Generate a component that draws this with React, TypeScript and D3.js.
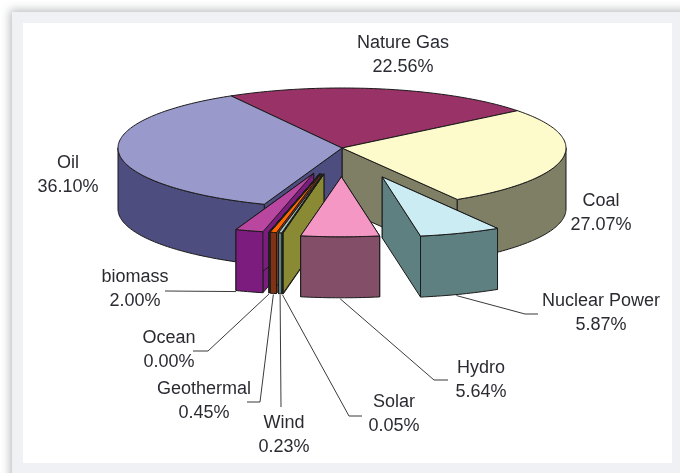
import React from "react";
import * as d3 from "d3";

const categories = ["Nature Gas", "Coal", "Nuclear Power", "Hydro", "Solar", "Wind", "Geothermal", "Ocean", "biomass", "Oil"];
const shares = [22.56, 27.07, 5.87, 5.64, 0.05, 0.23, 0.45, 0.0, 2.0, 36.1];
const explodeBy = [0, 0, 0.515, 0.48, 0.44, 0.44, 0.44, 0.44, 0.44, 0];
const topColors = ["#993366", "#FDFACB", "#CCECF4", "#F497C4", "#808000", "#A9C4C4", "#FF6600", "#1E6E62", "#B9479F", "#9999CC"];
const sideColors = ["#6E2549", "#7F7F66", "#5F8080", "#834F67", "#8A8A35", "#5F8080", "#7F3318", "#0F4038", "#7C1F7E", "#4D4D80"];

const W = 680, H = 473;
const cx = 342, cy = 148, rx = 224, ry = 60, depth = 61;
const startDeg = -29.7;

// label layout: centre of the two text lines, then the leader's elbow and end
const labelPos: Record<string, { x: number; y: number; bend?: [number, number]; end?: [number, number]; at?: number }> = {
  "Nature Gas": { x: 403, y: 42 },
  Coal: { x: 601, y: 200 },
  "Nuclear Power": { x: 601, y: 300, bend: [525, 314], end: [538, 314], at: 0.55 },
  Hydro: { x: 481, y: 367, bend: [434, 380], end: [448, 380], at: 0.5 },
  Solar: { x: 394, y: 401, bend: [349, 416], end: [362, 416], at: 1 },
  Wind: { x: 284, y: 422, bend: [281, 407], end: [281, 407], at: 0.5 },
  Geothermal: { x: 204, y: 388, bend: [260, 402], end: [247, 402], at: 0.5 },
  Ocean: { x: 169, y: 337, bend: [208, 351], end: [193, 351], at: 0.5 },
  biomass: { x: 135, y: 276, bend: [165, 291], end: [165, 291], at: 1 },
  Oil: { x: 68, y: 162 },
};

const rows = categories.map((name, i) => ({ name, value: shares[i], explode: explodeBy[i], top: topColors[i], side: sideColors[i] }));
const pie = d3.pie<(typeof rows)[number]>().value((d) => d.value).sort(null)
  .startAngle((startDeg * Math.PI) / 180)
  .endAngle((startDeg * Math.PI) / 180 + 2 * Math.PI);
const arcs = pie(rows);

const path = d3.line<[number, number]>();
const sx = d3.scaleLinear().domain([-1, 1]).range([cx - rx, cx + rx]);
const sy = d3.scaleLinear().domain([-1, 1]).range([cy - ry, cy + ry]);
const pt = (a: number, ox = 0, oy = 0, r = 1): [number, number] => [sx(r * Math.sin(a)) + ox, sy(-r * Math.cos(a)) + oy];
const rim = (a0: number, a1: number, ox: number, oy: number, dz = 0): [number, number][] => {
  const n = Math.max(2, Math.ceil(Math.abs(a1 - a0) / 0.02));
  return d3.range(n + 1).map((i) => {
    const p = pt(a0 + ((a1 - a0) * i) / n, ox, oy);
    return [p[0], p[1] + dz] as [number, number];
  });
};

type A = (typeof arcs)[number];
function offset(d: A): [number, number] {
  if (!d.data.explode) return [0, 0];
  const m = (d.startAngle + d.endAngle) / 2;
  const p = pt(m, 0, 0, d.data.explode);
  return [p[0] - cx, p[1] - cy];
}

const stroke = { stroke: "#1a1a1a", strokeWidth: 1, strokeLinejoin: "round" as const };

function Slice({ d }: { d: A }) {
  const [ox, oy] = offset(d);
  const c: [number, number] = [cx + ox, cy + oy];
  const wall = (a: number) => {
    const p = pt(a, ox, oy);
    const pts: [number, number][] = [c, p, [p[0], p[1] + depth], [c[0], c[1] + depth]];
    return path(pts) + "Z";
  };
  // the part of the rim that faces the viewer
  const lo = Math.max(d.startAngle, Math.PI / 2);
  const hi = Math.min(d.endAngle, (3 * Math.PI) / 2);
  let front = null;
  if (hi > lo) {
    const upper = rim(lo, hi, ox, oy);
    const lower = rim(hi, lo, ox, oy, depth);
    front = path([...upper, ...lower]) + "Z";
  }
  const top = path([c, ...rim(d.startAngle, d.endAngle, ox, oy)]) + "Z";
  return (
    <g>
      {(d.startAngle > Math.PI / 2 || d.data.explode > 0) && <path d={wall(d.startAngle)} fill={d.data.side} {...stroke} />}
      {(d.endAngle < (3 * Math.PI) / 2 || d.data.explode > 0) && <path d={wall(d.endAngle)} fill={d.data.side} {...stroke} />}
      {front && <path d={front} fill={d.data.side} {...stroke} />}
      <path d={top} fill={d.data.top} {...stroke} />
    </g>
  );
}

const mainSlices = arcs.filter((d) => !d.data.explode);
// furthest left first: each exploded wedge hides the right-hand wall of the one before it
const explodedSlices = ["biomass", "Ocean", "Geothermal", "Wind", "Solar", "Hydro", "Nuclear Power"].map(
  (n) => arcs.find((d) => d.data.name === n)!
);

function Leader({ d }: { d: A }) {
  const l = labelPos[d.data.name];
  if (!l.bend || !l.end) return null;
  const [ox, oy] = offset(d);
  const a = d.startAngle + (d.endAngle - d.startAngle) * (l.at ?? 0.5);
  const p = pt(a, ox, oy);
  const pts: [number, number][] = [[p[0], p[1] + depth + 1], l.bend, l.end];
  return <path d={path(pts)!} fill="none" stroke="#3a3a3a" strokeWidth={1} />;
}

export default function App() {
  return (
    <svg width={W} height={H} style={{ position: "absolute", left: 0, top: 0, background: "#fff" }}>
      <defs>
        <filter id="sh" x="-10%" y="-10%" width="120%" height="120%">
          <feGaussianBlur stdDeviation="5" />
        </filter>
        <filter id="soft" x="-5%" y="-5%" width="110%" height="110%">
          <feGaussianBlur stdDeviation="0.45" />
        </filter>
      </defs>
      <rect x={10} y={10} width={700} height={500} fill="#b9bbbe" filter="url(#sh)" />
      <rect x={12} y={12} width={700} height={500} fill="#eff1f4" />
      <rect x={23} y={23} width={649} height={440} fill="#ffffff" />
      <g filter="url(#soft)">
        {arcs.map((d) => <Leader key={d.data.name} d={d} />)}
        {mainSlices.map((d) => <Slice key={d.data.name} d={d} />)}
        {explodedSlices.map((d) => <Slice key={d.data.name} d={d} />)}
        <g fontFamily="'Liberation Sans', Arial, sans-serif" fontSize={18} fill="#2b2b33" textAnchor="middle">
          {rows.map((r) => {
            const l = labelPos[r.name];
            return (
              <g key={r.name}>
                <text x={l.x} y={l.y} dy="0.35em">{r.name}</text>
                <text x={l.x} y={l.y + 23.5} dy="0.35em">{r.value.toFixed(2)}%</text>
              </g>
            );
          })}
        </g>
      </g>
    </svg>
  );
}
